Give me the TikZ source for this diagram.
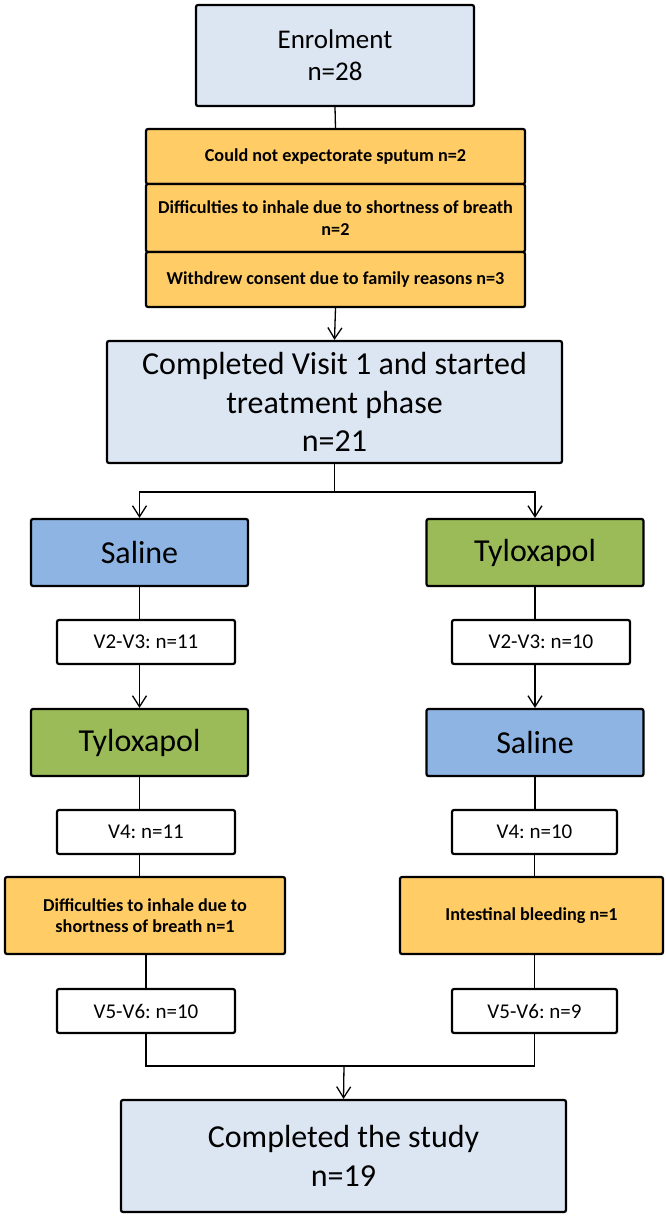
\documentclass[tikz,border=0pt]{standalone}
\usepackage{fontspec}
\setmainfont{Carlito}
\frenchspacing
\usetikzlibrary{positioning, arrows.meta, calc}
\definecolor{stagefill}{RGB}{220,230,242}
\definecolor{dropfill}{RGB}{255,204,102}
\definecolor{salinefill}{RGB}{141,180,226}
\definecolor{tylofill}{RGB}{155,187,89}

\tikzset{
  box/.style={draw=black, line width=2.2pt, rounded corners=2pt, align=center, inner sep=0pt},
  stagebox/.style={box, fill=stagefill, font=\fontsize{32}{38.5}\selectfont},
  dropbox/.style={box, fill=dropfill, font=\fontsize{18.2}{21.5}\selectfont\bfseries},
  salinebox/.style={box, fill=salinefill, minimum width=217pt, minimum height=67pt, font=\fontsize{32}{38}\selectfont},
  tylobox/.style={box, fill=tylofill, minimum width=217pt, minimum height=67pt, font=\fontsize{32}{38}\selectfont},
  visitbox/.style={box, fill=white, minimum height=44pt, font=\fontsize{21}{25}\selectfont},
  link/.style={line width=1.3pt},
  flow/.style={link, -{Straight Barb[length=11pt, width=14pt, line width=1.3pt]}}
}

\begin{document}
\begin{tikzpicture}[x=1pt, y=-1pt]
  \useasboundingbox (0,0) rectangle (666,1218);

  % Einschluss
  \node[stagebox, minimum width=278pt, minimum height=101pt, font=\fontsize{27}{32}\selectfont] (enrol) at (335,55.5) {Enrolment\\n=28};

  % Ausschluesse vor Visite 1
  \node[dropbox, minimum width=379pt, minimum height=55pt] (excl1) at (335.5,156.5) {Could not expectorate sputum n=2};
  \node[dropbox, minimum width=379pt, minimum height=68pt] (excl2) at (335.5,218) {Difficulties to inhale due to shortness of breath\\n=2};
  \node[dropbox, minimum width=379pt, minimum height=55pt] (excl3) at (335.5,279.5) {Withdrew consent due to family reasons n=3};

  \node[stagebox, minimum width=455pt, minimum height=122pt] (visit) at (334.5,402) {Completed Visit 1 and started\\treatment phase\\n=21};

  \coordinate (split) at (334.5,492);

  % Arm A
  \node[salinebox] (sal1) at (139.5,552.5) {Saline};
  \node[visitbox, minimum width=178pt] (v23a) at (146,642) {V2-V3: n=11};
  \node[tylobox] (tyl1) at (139.5,742.5) {Tyloxapol};
  \node[visitbox, minimum width=178pt] (v4a) at (146,832) {V4: n=11};
  \node[dropbox, minimum width=280pt, minimum height=77pt] (dropa) at (145,915.5) {Difficulties to inhale due to\\shortness of breath n=1};
  \node[visitbox, minimum width=178pt] (v56a) at (146,1011) {V5-V6: n=10};

  % Arm B
  \node[tylobox] (tyl2) at (535,552.5) {Tyloxapol};
  \node[visitbox, minimum width=178pt] (v23b) at (541,642) {V2-V3: n=10};
  \node[salinebox] (sal2) at (535,742.5) {Saline};
  \node[visitbox, minimum width=165pt] (v4b) at (534.5,832) {V4: n=10};
  \node[dropbox, minimum width=263pt, minimum height=77pt] (dropb) at (531.5,915.5) {Intestinal bleeding n=1};
  \node[visitbox, minimum width=165pt] (v56b) at (534.5,1011) {V5-V6: n=9};

  \coordinate (join) at (344,1066);

  \node[stagebox, minimum width=445pt, minimum height=112pt] (final) at (343.5,1156) {Completed the study\\n=19};

  % Verbindungen
  \draw[link] (enrol.south) -- (excl1.north);
  \draw[flow] (excl3.south) -- (visit.north);
  \draw[link] (visit.south) -- (split);
  \draw[flow] (split) -| (sal1.north);
  \draw[flow] (split) -| (tyl2.north);

  \draw[link] (sal1.south) -- (sal1.south |- v23a.north);
  \draw[flow] (tyl1.north |- v23a.south) -- (tyl1.north);
  \draw[link] (tyl1.south) -- (tyl1.south |- v4a.north);
  \draw[link] (tyl1.south |- v4a.south) -- (tyl1.south |- dropa.north);
  \draw[link] (v56a.north |- dropa.south) -- (v56a.north);

  \draw[link] (tyl2.south) -- (tyl2.south |- v23b.north);
  \draw[flow] (sal2.north |- v23b.south) -- (sal2.north);
  \draw[link] (sal2.south) -- (sal2.south |- v4b.north);
  \draw[link] (v4b.south) -- (v4b.south |- dropb.north);
  \draw[link] (v56b.north |- dropb.south) -- (v56b.north);

  \draw[link] (v56a.south) |- (join) -| (v56b.south);
  \draw[flow] (join) -- (final.north);
\end{tikzpicture}
\end{document}
